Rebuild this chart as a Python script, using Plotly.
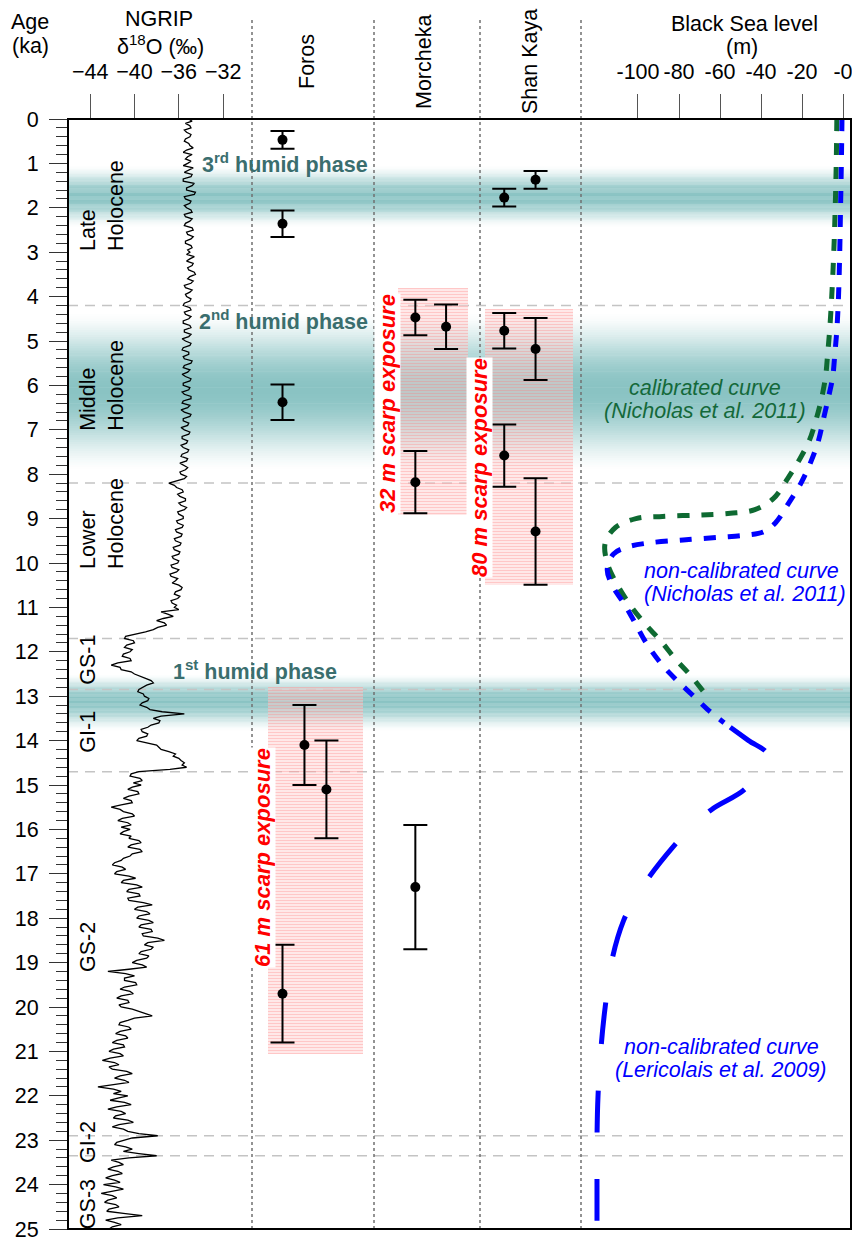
import math
import plotly.graph_objects as go

# ---------------- DATA ----------------
# NGRIP d18O (permil), read every 0.05 ka from 0 to 25 ka (one row per ka)
ngrip_d18o = [
    -35.1, -34.8, -35.4, -35.0, -34.9, -35.5, -35.3, -34.9, -35.0, -35.4, -35.5, -35.1, -35.0, -34.7, -35.3, -35.6, -34.8, -35.2, -35.4, -34.9,
    -35.2, -35.6, -34.7, -35.1, -35.5, -34.8, -34.9, -35.6, -35.6, -34.6, -34.8, -35.3, -35.3, -34.5, -34.6, -35.5, -35.4, -34.9, -35.0, -35.5,
    -35.3, -34.9, -34.8, -35.5, -35.4, -34.8, -35.0, -35.4, -35.5, -34.8, -34.7, -35.3, -35.2, -34.7, -34.9, -35.4, -35.4, -34.9, -34.8, -35.2,
    -35.0, -35.3, -34.6, -35.0, -35.3, -34.7, -34.8, -35.2, -35.1, -34.6, -34.5, -35.0, -35.2, -34.7, -34.9, -35.5, -35.4, -34.8, -35.0, -35.4,
    -35.3, -34.9, -35.0, -35.5, -35.6, -35.0, -34.9, -35.5, -35.4, -34.9, -35.1, -35.6, -35.6, -35.0, -34.9, -35.5, -35.5, -34.9, -35.1, -35.7,
    -35.4, -34.9, -35.0, -35.6, -35.7, -35.1, -35.1, -35.6, -35.5, -34.8, -34.9, -35.5, -35.6, -35.0, -35.2, -35.7, -35.4, -34.9, -35.0, -35.6,
    -35.6, -35.0, -35.1, -35.7, -35.5, -34.9, -34.9, -35.6, -35.7, -35.0, -35.2, -35.8, -35.5, -34.9, -35.0, -35.6, -35.6, -35.1, -35.2, -35.8,
    -35.5, -35.0, -35.1, -35.7, -35.7, -35.2, -35.3, -35.8, -35.6, -35.1, -35.2, -35.7, -35.8, -35.2, -35.3, -35.9, -35.6, -35.2, -35.4, -35.9,
    -35.8, -35.3, -35.5, -36.1, -36.9, -36.4, -36.2, -35.7, -35.6, -36.1, -35.9, -35.4, -35.4, -36.0, -35.8, -35.3, -35.5, -36.1, -36.0, -35.6,
    -35.6, -36.2, -36.1, -35.6, -35.7, -36.3, -36.2, -35.7, -35.8, -36.4, -36.3, -35.8, -35.9, -36.5, -36.4, -35.9, -36.0, -36.6, -36.5, -36.0,
    -36.1, -36.7, -36.6, -36.0, -36.2, -36.8, -36.7, -36.1, -36.3, -36.6, -36.0, -35.7, -35.8, -36.3, -36.4, -35.9, -36.1, -36.7, -36.6, -36.2,
    -36.4, -36.0, -37.6, -37.0, -36.5, -37.4, -38.0, -37.3, -37.1, -37.9, -38.3, -39.0, -40.0, -40.8, -40.9, -40.1, -40.0, -40.7, -40.9, -40.2,
    -40.4, -41.0, -41.1, -40.4, -40.3, -41.5, -42.1, -41.3, -41.2, -40.3, -40.0, -39.4, -39.0, -38.5, -38.3, -38.9, -39.2, -39.6, -39.7, -39.2,
    -39.1, -38.7, -38.8, -39.3, -39.5, -38.9, -38.6, -37.5, -35.5, -37.6, -38.3, -37.7, -37.8, -38.5, -38.8, -39.4, -39.3, -38.8, -38.9, -39.6,
    -39.8, -39.0, -38.0, -37.8, -37.6, -36.9, -36.3, -36.5, -36.0, -35.8, -35.5, -35.7, -35.3, -36.8, -39.6, -40.3, -40.4, -39.5, -39.3, -40.1,
    -39.4, -40.2, -40.6, -39.7, -39.6, -40.5, -41.0, -40.3, -40.2, -41.2, -42.1, -41.3, -41.0, -40.2, -40.0, -41.1, -41.5, -40.6, -40.3, -41.2,
    -40.4, -41.0, -41.3, -40.3, -40.5, -39.6, -39.4, -40.3, -40.6, -39.5, -39.3, -40.2, -40.4, -41.0, -41.2, -41.8, -42.0, -41.1, -40.8, -41.6,
    -41.8, -40.5, -39.9, -41.0, -41.2, -39.8, -39.3, -40.5, -40.7, -39.6, -39.5, -40.6, -40.5, -39.2, -38.4, -39.7, -40.0, -38.9, -38.6, -39.6,
    -39.8, -38.7, -38.3, -39.4, -39.6, -38.5, -38.4, -39.3, -39.2, -37.9, -37.3, -38.8, -39.1, -38.3, -38.5, -39.4, -39.6, -38.7, -38.9, -39.8,
    -40.2, -39.3, -38.9, -40.5, -42.4, -40.8, -40.0, -40.9, -40.9, -39.9, -39.8, -40.9, -41.3, -40.4, -40.1, -41.2, -41.6, -40.6, -40.5, -41.4,
    -41.2, -40.2, -39.5, -39.0, -38.4, -40.0, -40.6, -41.3, -41.4, -40.5, -40.3, -41.3, -41.7, -40.8, -40.6, -41.6, -42.0, -41.0, -40.9, -41.9,
    -42.3, -41.3, -41.0, -42.2, -42.9, -41.8, -41.4, -42.3, -42.0, -40.7, -40.2, -41.3, -41.8, -40.9, -40.5, -42.0, -43.3, -41.9, -41.2, -41.9,
    -40.6, -41.5, -42.2, -40.9, -40.3, -41.6, -42.4, -41.2, -40.8, -41.7, -41.9, -40.6, -40.1, -41.4, -42.0, -41.0, -40.6, -39.6, -37.9, -40.2,
    -40.9, -41.6, -41.8, -40.8, -40.2, -41.0, -39.6, -38.0, -40.5, -42.1, -41.4, -41.0, -41.9, -42.4, -41.5, -41.1, -42.0, -42.6, -41.8, -41.3,
    -42.8, -41.7, -41.0, -42.2, -43.0, -42.0, -41.6, -42.4, -42.7, -41.7, -41.4, -42.3, -42.5, -41.0, -39.3, -41.5, -42.6, -41.8, -41.2, -42.0,
    -42.3,
]
ngrip_age = [i / 20 for i in range(len(ngrip_d18o))]

# Black Sea level (m)
cal_age = [0, 1, 2, 3, 4, 4.75, 5.3, 5.8, 6.3, 6.75, 7.25, 7.65, 8.1, 8.55, 8.8,
           8.88, 8.92, 8.95, 9.0, 9.2, 9.55, 10.0, 10.5, 11.0, 11.4, 11.75, 12.15,
           12.5, 12.9]
cal_level = [-3, -3.3, -3.8, -4.5, -5.5, -6.5, -7.5, -8.5, -10.5, -13, -16.5, -21,
             -27, -34, -43, -55, -70, -88, -101, -111, -116, -115, -110, -103, -96,
             -89, -82, -75, -68]

noncal_age = [0, 1, 2, 3, 4, 4.75, 5.3, 5.8, 6.25, 6.75, 7.25, 7.7, 8.2, 8.65, 9.1,
              9.3, 9.37, 9.42, 9.48, 9.55, 9.65, 9.8, 10.15, 10.55, 10.9, 11.3, 11.8,
              12.25, 12.6, 12.95, 13.3, 13.6]
noncal_level = [-0.5, -0.8, -1.2, -1.6, -2.2, -3, -4, -5, -7, -9.5, -12, -15.5, -20.5,
                -26.5, -33, -39, -47, -60, -78, -95, -106, -112, -115, -112, -107,
                -102, -96, -89, -82, -74, -66, -58]

leric_age = [13.7, 14.0, 14.3, 14.6, 15.1, 15.55, 16.0, 16.4, 17.1, 17.6, 18.05,
             18.9, 20.0, 20.9, 22.0, 23.0, 24.0, 25.0]
leric_level = [-55, -46, -37, -40, -48, -64, -75, -83, -95, -102, -107, -112.5,
               -116, -118, -119.5, -120, -120, -120]

# Dated samples (ka) with errors; lane = position inside the site column
sites = ["Foros", "Morcheka", "Shan Kaya"]
foros_age = [0.47, 2.36, 6.38, 14.1, 15.1, 19.7]
foros_err = [0.2, 0.3, 0.4, 0.9, 1.1, 1.1]
foros_lane = [0.25, 0.25, 0.25, 0.43, 0.61, 0.25]
morcheka_age = [4.47, 4.68, 8.18, 17.3]
morcheka_err = [0.4, 0.5, 0.7, 1.4]
morcheka_lane = [0.39, 0.68, 0.39, 0.39]
shankaya_age = [1.77, 1.37, 4.77, 5.18, 7.58, 9.29]
shankaya_err = [0.2, 0.2, 0.4, 0.7, 0.7, 1.2]
shankaya_lane = [0.24, 0.55, 0.24, 0.55, 0.24, 0.55]

# Scarp exposure windows
scarp_labels = ["61 m scarp exposure", "32 m scarp exposure", "80 m scarp exposure"]
scarp_top = [12.8, 3.8, 4.27]
scarp_bottom = [21.05, 8.93, 10.5]
scarp_left = [0.13, 0.23, 0.05]
scarp_right = [0.91, 0.89, 0.92]

# Humid phases (start, maximum, end in ka)
humid_start = [1.05, 4.35, 12.5]
humid_peak = [1.75, 6.1, 13.1]
humid_end = [2.45, 7.95, 13.8]
humid_labels = ["3<sup>rd</sup> humid phase", "2<sup>nd</sup> humid phase",
                "1<sup>st</sup> humid phase"]
humid_label_age = [0.99, 4.53, 12.41]

# Stratigraphic boundaries (ka)
boundaries = [4.2, 8.2, 11.7, 12.85, 14.7, 22.9, 23.35]

period_labels = ["Late<br>Holocene", "Middle<br>Holocene", "Lower<br>Holocene",
                 "GS-1", "GI-1", "GS-2", "GI-2", "GS-3"]
period_ages = [1.96, 6.01, 9.12, 12.18, 13.8, 18.65, 23.04, 24.44]

age_ticks = list(range(0, 26))
ngrip_ticks = [-44, -40, -36, -32]
sea_ticks = [-100, -80, -60, -40, -20, 0]
sea_ticktext = ["-100", "-80", "-60", "-40", "-20", "-0"]

# ---------------- LAYOUT GEOMETRY (screen pixels) ----------------
PAGE_W, PAGE_H = 860, 1237
BODY = 8                     # default page margin around the plot div
L, R, T, B = 68, 851, 119, 1229
FONT = "Liberation Sans, Arial, sans-serif"
FS = 21.5


def px(x):
    return (x - L) / (R - L)


def py(y):
    return (B - y) / (B - T)


col_edges = [252, 374, 480, 581]

fig = go.Figure()

# NGRIP curve
fig.add_trace(go.Scatter(x=ngrip_d18o, y=ngrip_age, mode="lines",
                         line=dict(color="black", width=1.3),
                         xaxis="x", yaxis="y", showlegend=False))

# scarp exposure windows (hatched pink)
site_axes = ["x2", "x3", "x4"]
for i in range(3):
    fig.add_trace(go.Bar(
        x=[(scarp_left[i] + scarp_right[i]) / 2], y=[scarp_bottom[i] - scarp_top[i]],
        base=[scarp_top[i]], width=[scarp_right[i] - scarp_left[i]],
        xaxis=site_axes[i], yaxis="y", showlegend=False,
        marker=dict(color="rgba(255,205,205,0.45)", line=dict(width=0),
                    pattern=dict(shape="-", fgcolor="rgba(255,120,120,0.6)",
                                 size=3, solidity=0.35)),
    ))

# sea level curves
fig.add_trace(go.Scatter(x=cal_level, y=cal_age, mode="lines", xaxis="x5", yaxis="y",
                         line=dict(color="#0e6a32", width=5, dash="12px,12px", shape="spline"),
                         showlegend=False))
fig.add_trace(go.Scatter(x=noncal_level, y=noncal_age, mode="lines", xaxis="x5", yaxis="y",
                         line=dict(color="#0000ff", width=5, dash="12px,12px", shape="spline"),
                         showlegend=False))
fig.add_trace(go.Scatter(x=leric_level, y=leric_age, mode="lines", xaxis="x5", yaxis="y",
                         line=dict(color="#0000ff", width=5, dash="42px,46.5px", shape="spline"),
                         showlegend=False))

# dated samples
for ax, ages, errs, lanes in [("x2", foros_age, foros_err, foros_lane),
                              ("x3", morcheka_age, morcheka_err, morcheka_lane),
                              ("x4", shankaya_age, shankaya_err, shankaya_lane)]:
    fig.add_trace(go.Scatter(
        x=lanes, y=ages, mode="markers", xaxis=ax, yaxis="y", showlegend=False,
        marker=dict(color="black", size=10),
        error_y=dict(type="data", array=errs, color="black", thickness=2, width=12),
    ))

shapes = []
# humid phase bands (opaque gradient slivers, slightly overlapping)
TEAL = (122, 187, 187)
N = 70
for s, p, e in zip(humid_start, humid_peak, humid_end):
    h = (e - s) / N
    for k in range(N):
        a0 = s + h * k
        am = a0 + h / 2
        t = (am - s) / (p - s) if am <= p else (e - am) / (e - p)
        op = 0.88 * math.sin(math.pi / 2 * t) ** 1.6
        c = tuple(int(round(255 + (TEAL[j] - 255) * op)) for j in range(3))
        shapes.append(dict(type="rect", xref="paper", yref="y", x0=0, x1=1,
                           y0=a0 - h * 0.15, y1=a0 + h * 1.15,
                           fillcolor="rgb(%d,%d,%d)" % c,
                           line=dict(width=0), layer="below"))
# boundaries
for b in boundaries:
    shapes.append(dict(type="line", xref="paper", yref="y", x0=0, x1=1, y0=b, y1=b,
                       line=dict(color="#c4c4c4", width=1.5, dash="10px,7px"), layer="below"))
# column separators
for c in col_edges:
    shapes.append(dict(type="line", xref="paper", yref="paper", x0=px(c), x1=px(c),
                       y0=0, y1=py(17), line=dict(color="#707070", width=1.5, dash="3px,3px"),
                       layer="below"))
# frame
shapes.append(dict(type="rect", xref="paper", yref="paper", x0=0, x1=1, y0=0, y1=1,
                   line=dict(color="black", width=2), layer="above"))

ann = []


def text(x, y, s, size=FS, color="black", angle=0, xref="paper", yref="paper", **kw):
    d = dict(x=x, y=y, text=s, xref=xref, yref=yref, showarrow=False, textangle=angle,
             font=dict(family=FONT, size=size, color=color), xanchor="center",
             yanchor="middle")
    d.update(kw)
    ann.append(d)


# headers
text(px(30), py(22), "Age")
text(px(30), py(46), "(ka)")
text(px(159), py(19), "NGRIP")
text(px(160), py(45), "δ<sup>18</sup>O (‰)")
text(px(744), py(24), "Black Sea level")
text(px(742), py(47), "(m)")
for name, xc in zip(sites, [307, 424, 530]):
    text(px(xc), py(62), name, angle=-90)

# period labels
for lab, age in zip(period_labels, period_ages):
    xc = 102 if "<br>" in lab else 88
    text(px(xc), age, lab, angle=-90, yref="y", align="left")

# humid labels
for lab, age, xc in zip(humid_labels, humid_label_age, [285, 283, 255]):
    text(px(xc), age, "<b>" + lab + "</b>", color="#3a6e6e", yref="y")

# scarp labels (white background)
for lab, xc, yc in zip(scarp_labels, [262, 387, 479], [858, 404, 468]):
    text(px(xc), py(yc), "<b><i>" + lab + "</i></b>", size=22, color="#ff0000",
         angle=-90, bgcolor="white", borderpad=0)

# curve labels
GREEN = "#14693a"
text(px(705), py(388), "<i>calibrated curve</i>", color=GREEN)
text(px(705), py(411), "<i>(Nicholas et al. 2011)</i>", color=GREEN)
text(px(741), py(571), "<i>non-calibrated curve</i>", color="#0000ff")
text(px(745), py(594), "<i>(Nicholas et al. 2011)</i>", color="#0000ff")
text(px(721), py(1047), "<i>non-calibrated curve</i>", color="#0000ff")
text(px(721), py(1070), "<i>(Lericolais et al. 2009)</i>", color="#0000ff")

hidden = dict(visible=False, range=[0, 1], anchor="y", fixedrange=True, automargin=False)

fig.update_layout(
    width=PAGE_W - BODY, height=PAGE_H - BODY,
    margin=dict(l=L - BODY, r=PAGE_W - R, t=T - BODY, b=PAGE_H - B, pad=0,
                autoexpand=False),
    paper_bgcolor="white", plot_bgcolor="rgba(0,0,0,0)",
    font=dict(family=FONT, size=FS, color="black"),
    barmode="overlay", bargap=0,
    showlegend=False,
    shapes=shapes, annotations=ann,
    yaxis=dict(range=[25, 0], domain=[0, 1], tickvals=age_ticks, ticks="outside",
               ticklen=18, tickwidth=1.2, tickcolor="#333", showline=False,
               showgrid=False, zeroline=False, ticklabelstandoff=6, automargin=False,
               ticklabeloverflow="allow", tickfont=dict(size=FS),
               minor=dict(dtick=0.2, ticks="outside", ticklen=11, tickwidth=1,
                          tickcolor="#333")),
    xaxis=dict(domain=[0, px(col_edges[0])], range=[-46.0, -46.0 + (col_edges[0] - L) / 11.08],
               side="top", anchor="y", tickvals=ngrip_ticks, ticks="outside", ticklen=24,
               tickwidth=1, tickcolor="#555", showgrid=False, zeroline=False,
               showline=False, ticklabelstandoff=6, ticklabeloverflow="allow",
               automargin=False, tickfont=dict(size=FS)),
    xaxis2=dict(domain=[px(col_edges[0]), px(col_edges[1])], **hidden),
    xaxis3=dict(domain=[px(col_edges[1]), px(col_edges[2])], **hidden),
    xaxis4=dict(domain=[px(col_edges[2]), px(col_edges[3])], **hidden),
    xaxis5=dict(domain=[px(col_edges[3]), 1], range=[-127.8, 3.9], side="top", anchor="y",
                tickvals=sea_ticks, ticktext=sea_ticktext, ticks="outside", ticklen=24,
                tickwidth=1, tickcolor="#555", showgrid=False, zeroline=False,
                showline=False, ticklabelstandoff=6, ticklabeloverflow="allow",
                automargin=False, tickfont=dict(size=FS)),
)

fig.write_html("out.html")
